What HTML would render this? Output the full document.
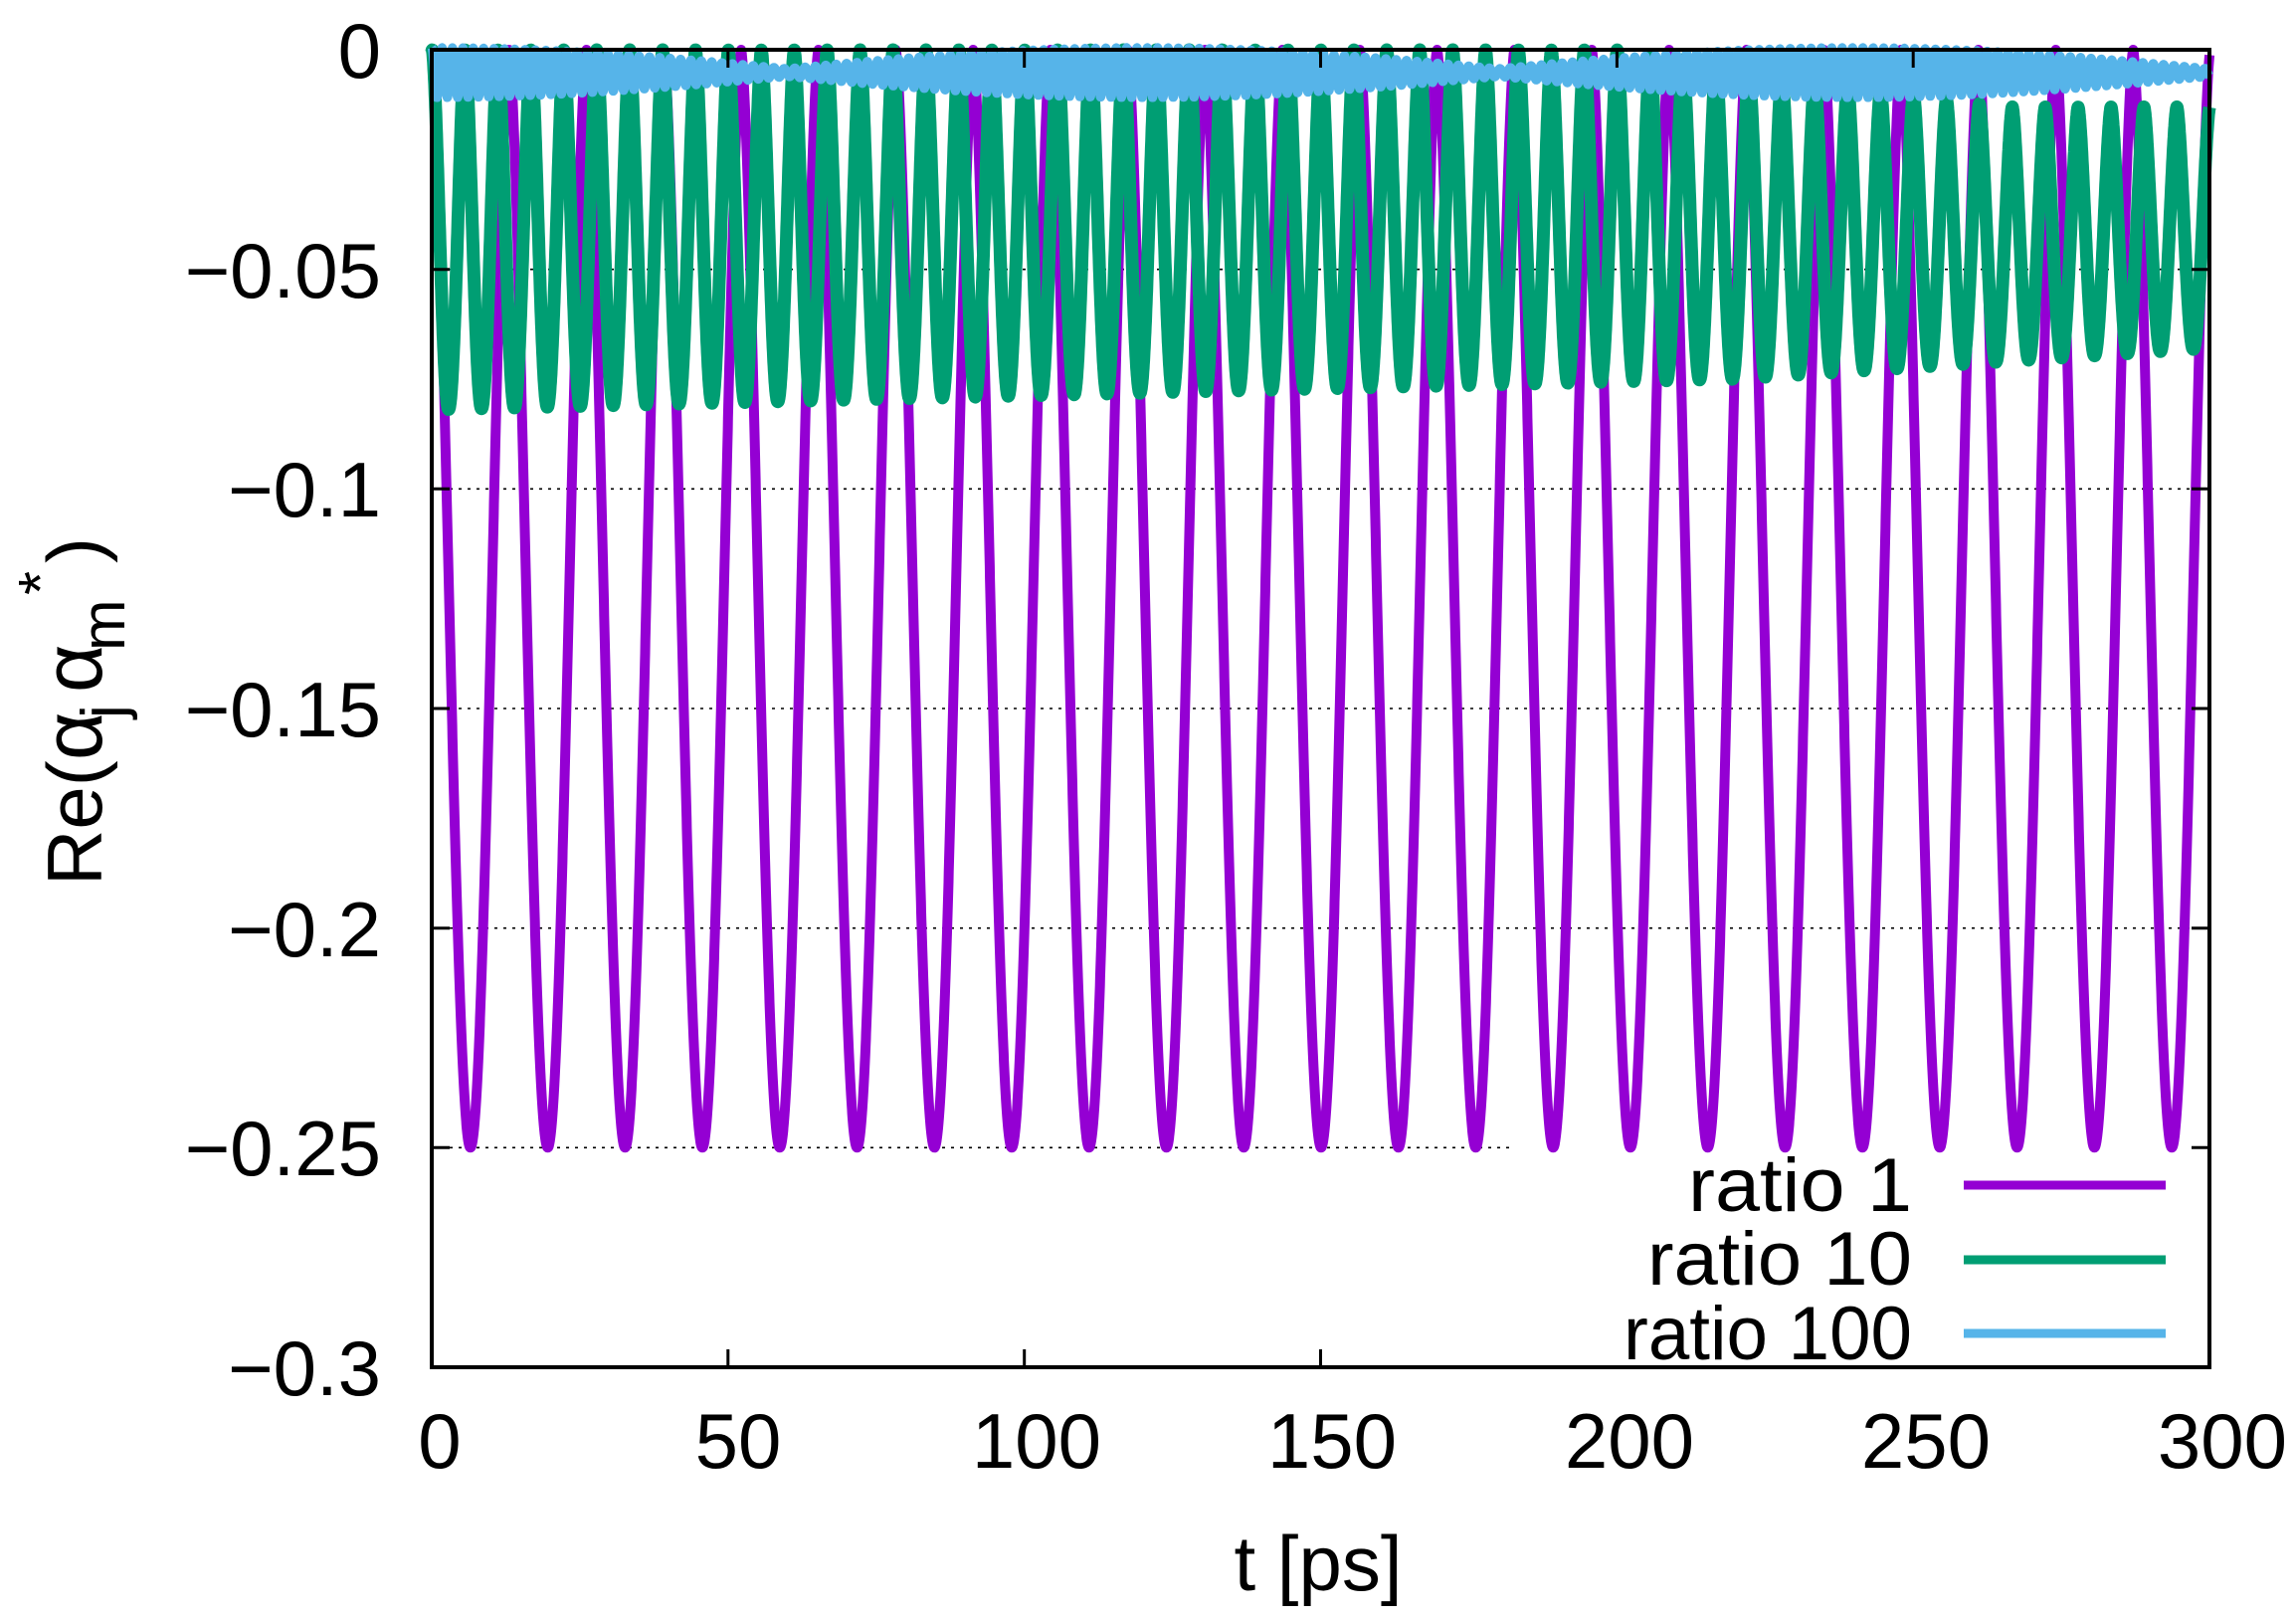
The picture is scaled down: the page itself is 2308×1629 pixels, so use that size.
<!DOCTYPE html>
<html><head><meta charset="utf-8">
<style>
html,body{margin:0;padding:0;background:#fff;}
svg{display:block;}
text{font-family:"Liberation Sans","DejaVu Sans",sans-serif;fill:#000;}
</style></head>
<body>
<svg id="s" xmlns="http://www.w3.org/2000/svg" width="2308" height="1629" viewBox="0 0 2308 1629">
<rect width="2308" height="1629" fill="#fff"/>
<g stroke="#000" stroke-width="1.6" stroke-dasharray="3,6" fill="none">
<line x1="434" y1="270.7" x2="2221" y2="270.7"/>
<line x1="434" y1="491.3" x2="2221" y2="491.3"/>
<line x1="434" y1="712" x2="2221" y2="712"/>
<line x1="434" y1="932.7" x2="2221" y2="932.7"/>
<line x1="434" y1="1153.3" x2="1522" y2="1153.3"/>
</g>
<g id="curves" fill="none" stroke-linejoin="round"></g>
<g stroke="#000" stroke-width="3">
<line x1="434" y1="270.7" x2="452" y2="270.7"/><line x1="2221" y1="270.7" x2="2203" y2="270.7"/>
<line x1="434" y1="491.3" x2="452" y2="491.3"/><line x1="2221" y1="491.3" x2="2203" y2="491.3"/>
<line x1="434" y1="712" x2="452" y2="712"/><line x1="2221" y1="712" x2="2203" y2="712"/>
<line x1="434" y1="932.7" x2="452" y2="932.7"/><line x1="2221" y1="932.7" x2="2203" y2="932.7"/>
<line x1="434" y1="1153.3" x2="452" y2="1153.3"/><line x1="2221" y1="1153.3" x2="2203" y2="1153.3"/>
<line x1="731.8" y1="1374" x2="731.8" y2="1356"/><line x1="731.8" y1="50" x2="731.8" y2="68"/>
<line x1="1029.7" y1="1374" x2="1029.7" y2="1356"/><line x1="1029.7" y1="50" x2="1029.7" y2="68"/>
<line x1="1327.5" y1="1374" x2="1327.5" y2="1356"/><line x1="1327.5" y1="50" x2="1327.5" y2="68"/>
<line x1="1625.4" y1="1374" x2="1625.4" y2="1356"/><line x1="1625.4" y1="50" x2="1625.4" y2="68"/>
<line x1="1923.2" y1="1374" x2="1923.2" y2="1356"/><line x1="1923.2" y1="50" x2="1923.2" y2="68"/>
</g>
<rect x="1524" y="1162" width="695" height="210" fill="#fff"/>
<rect x="434" y="50" width="1787" height="1324" fill="none" stroke="#000" stroke-width="4"/>
<g font-size="78" text-anchor="end">
<text x="383" y="78">0</text>
<text x="383" y="299">−0.05</text>
<text x="383" y="519">−0.1</text>
<text x="383" y="740">−0.15</text>
<text x="383" y="961">−0.2</text>
<text x="383" y="1181">−0.25</text>
<text x="383" y="1402">−0.3</text>
</g>
<g font-size="78" text-anchor="middle">
<text x="442" y="1475">0</text>
<text x="742" y="1475">50</text>
<text x="1042" y="1475">100</text>
<text x="1339" y="1475">150</text>
<text x="1638" y="1475">200</text>
<text x="1936" y="1475">250</text>
<text x="2234" y="1475">300</text>
<text x="1325" y="1598">t [ps]</text>
</g>
<g transform="translate(102,890) rotate(-90)" font-size="78">
<text x="0" y="0">Re(</text>
<text x="126" y="0" font-size="84">α</text>
<text x="168" y="23" font-size="62">j</text>
<text x="194" y="0" font-size="84">α</text>
<text x="236" y="23" font-size="62">m</text>
<text x="292" y="-40" font-size="62">*</text>
<text x="324" y="0">)</text>
</g>
<g font-size="76" text-anchor="end">
<text x="1922" y="1217" textLength="225" lengthAdjust="spacingAndGlyphs">ratio 1</text>
<text x="1922" y="1291" textLength="266" lengthAdjust="spacingAndGlyphs">ratio 10</text>
<text x="1922" y="1366" textLength="290" lengthAdjust="spacingAndGlyphs">ratio 100</text>
</g>
<g stroke-width="9">
<line x1="1974" y1="1191" x2="2177" y2="1191" stroke="#9400D3"/>
<line x1="1974" y1="1266" x2="2177" y2="1266" stroke="#009E73"/>
<line x1="1974" y1="1340" x2="2177" y2="1340" stroke="#56B4E9"/>
</g>
</svg>
<script>
(function(){
var X=function(t){return 434+t*5.957;};
var Y=function(v){return 50-v*4413.33;};
function path(f,step){var d="";for(var t=0;t<=300.0001;t+=step){d+=(t===0?"M":"L")+X(t).toFixed(1)+","+Y(f(t)).toFixed(1);}return d;}
var T1=13.05,T2=5.555;
function purple(t){var s=Math.pow(Math.sin(Math.PI*t/T1),2);return -0.25*Math.pow(s,0.8);}
function green(t){
 var bot=t<220?-0.082+0.007*t/220:-0.075+0.007*(t-220)/80;
 var top=t<200?0:(t<265?-0.013*(t-200)/65:-0.013);
 var s=Math.pow(Math.sin(Math.PI*(t-0.07)/T2),2);
 return top+(bot-top)*Math.pow(s,0.8);}
function blue(t){var a=0.0048*Math.abs(Math.cos(Math.PI*t/120))+0.0009;return -0.0052+a*Math.cos(2*Math.PI*t/1.75);}
var g=document.getElementById("curves");
var ns="http://www.w3.org/2000/svg";
[[purple,"#9400D3",10,0.05],[green,"#009E73",13,0.04],[blue,"#56B4E9",9,0.05]].forEach(function(c){
 var p=document.createElementNS(ns,"path");p.setAttribute("d",path(c[0],c[3]));
 p.setAttribute("stroke",c[1]);p.setAttribute("stroke-width",c[2]);g.appendChild(p);});
})();
</script>
</body></html>
